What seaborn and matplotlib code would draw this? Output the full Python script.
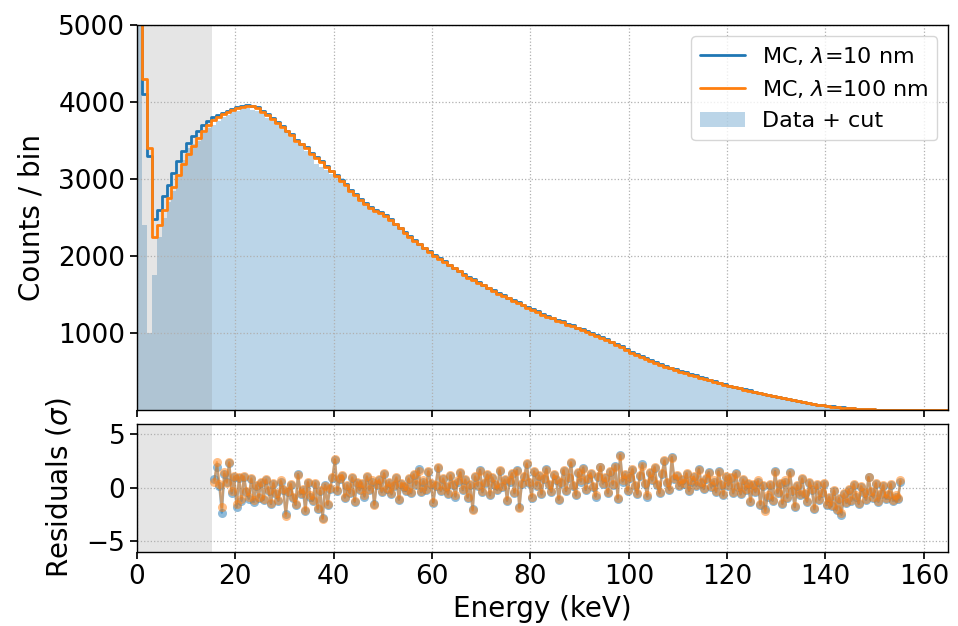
import numpy as np
import pandas as pd
import seaborn as sns
import matplotlib.pyplot as plt
from matplotlib.lines import Line2D
from matplotlib.patches import Patch

# spectrum, 1 keV bins from 0 to 165 keV
bin_edges = np.arange(0, 166, 1)

data_counts = [
    5600, 2400, 1000, 1750, 2250, 2500, 2700, 2850, 3050, 3250,
    3400, 3450, 3500, 3600, 3660, 3700, 3760, 3800, 3830, 3870,
    3880, 3910, 3920, 3900, 3880, 3850, 3790, 3760, 3700, 3650,
    3600, 3540, 3470, 3430, 3370, 3300, 3200, 3150, 3120, 3060,
    3020, 3010, 2900, 2830, 2770, 2710, 2660, 2620, 2570, 2540,
    2510, 2450, 2400, 2350, 2290, 2230, 2190, 2140, 2090, 2040,
    1990, 1950, 1910, 1870, 1830, 1790, 1750, 1710, 1680, 1640,
    1610, 1570, 1540, 1500, 1470, 1440, 1410, 1380, 1350, 1320,
    1290, 1260, 1230, 1200, 1180, 1150, 1130, 1100, 1080, 1050,
    1030, 1000, 980, 950, 930, 900, 870, 840, 810, 770,
    730, 710, 680, 650, 630, 600, 580, 550, 530, 510,
    490, 470, 450, 430, 410, 390, 375, 355, 335, 318,
    302, 288, 272, 258, 244, 229, 214, 200, 186, 174,
    161, 147, 135, 122, 110, 98, 88, 78, 68, 59,
    51, 44, 37, 31, 26, 21, 17, 13, 10, 7,
    5, 4, 3, 2, 2, 1, 1, 1, 1, 1,
    1, 1, 1, 1, 1,
]

mc_10nm = [
    7000, 4100, 3300, 2480, 2600, 2780, 2920, 3080, 3230, 3370,
    3470, 3560, 3630, 3700, 3760, 3800, 3830, 3860, 3890, 3910,
    3930, 3950, 3960, 3955, 3930, 3880, 3840, 3790, 3740, 3690,
    3630, 3580, 3510, 3460, 3410, 3340, 3280, 3230, 3170, 3110,
    3050, 2990, 2930, 2860, 2800, 2740, 2690, 2640, 2600, 2570,
    2530, 2480, 2420, 2370, 2310, 2260, 2210, 2160, 2110, 2060,
    2010, 1970, 1930, 1890, 1850, 1810, 1770, 1730, 1700, 1660,
    1630, 1590, 1560, 1520, 1490, 1460, 1430, 1400, 1370, 1340,
    1310, 1280, 1250, 1220, 1200, 1170, 1150, 1120, 1100, 1070,
    1050, 1020, 1000, 970, 950, 920, 890, 860, 830, 790,
    750, 730, 700, 670, 650, 620, 600, 570, 550, 530,
    510, 490, 470, 450, 430, 410, 395, 375, 355, 335,
    318, 302, 287, 271, 256, 240, 225, 210, 195, 182,
    168, 153, 140, 127, 114, 102, 91, 81, 71, 61,
    53, 46, 39, 33, 28, 23, 18, 14, 11, 8,
    6, 5, 4, 3, 2, 2, 1, 1, 1, 1,
    1, 1, 1, 1, 1,
]

mc_100nm = [
    7000, 4300, 3400, 2250, 2400, 2600, 2750, 2900, 3050, 3200,
    3330, 3430, 3530, 3620, 3700, 3770, 3800, 3840, 3870, 3900,
    3920, 3940, 3950, 3945, 3920, 3870, 3830, 3780, 3730, 3680,
    3620, 3570, 3500, 3450, 3400, 3330, 3270, 3220, 3160, 3100,
    3040, 2980, 2920, 2850, 2790, 2730, 2680, 2630, 2590, 2560,
    2520, 2470, 2410, 2360, 2300, 2250, 2200, 2150, 2100, 2050,
    2000, 1960, 1920, 1880, 1840, 1800, 1760, 1720, 1690, 1650,
    1620, 1580, 1550, 1510, 1480, 1450, 1420, 1390, 1360, 1330,
    1300, 1270, 1240, 1210, 1190, 1160, 1140, 1110, 1090, 1060,
    1040, 1010, 990, 960, 940, 910, 880, 850, 820, 780,
    740, 720, 690, 660, 640, 610, 590, 560, 540, 520,
    500, 480, 460, 440, 420, 400, 385, 365, 345, 325,
    310, 295, 280, 265, 250, 235, 220, 205, 190, 178,
    165, 150, 138, 125, 112, 100, 90, 80, 70, 60,
    52, 45, 38, 32, 27, 22, 18, 14, 11, 8,
    6, 5, 4, 3, 2, 2, 1, 1, 1, 1,
    1, 1, 1, 1, 1,
]

# residuals, 0.5 keV steps from 15.75 to 155.25 keV
res_energy = np.arange(15.75, 155.5, 0.5)

res_10nm = [
    0.8, 2.0, 0.2, -2.3, 1.3, 0.6, 2.3, -0.5, 1.0, -1.8, 0.9, -1.2, 1.0, -0.4, -1.0, 0.8, -1.3, 0.2, -0.9, 0.5,
    -1.1, 0.7, -0.3, -1.5, 0.4, -0.6, -1.2, 0.6, -0.2, -2.4, -0.4, 0.3, -0.9, -1.6, 1.3, -0.6, -0.2, -2.2, 0.5, -0.8,
    -1.2, 0.4, -2.0, -0.3, -2.8, 0.3, -1.6, -0.1, 0.9, 2.6, -0.3, 0.8, 1.1, -0.9, 0.2, -0.5, 0.9, -1.3, 0.5, -0.2,
    0.4, -0.8, 1.0, -0.2, 0.6, -1.5, 0.3, 0.7, -0.4, 1.3, -0.1, 0.5, -0.6, 0.2, 0.9, -1.1, 0.4, 0.1, -0.3, 0.8,
    -0.5, 1.2, 0.3, 1.8, -0.4, 0.6, -0.2, 1.5, 0.4, -1.4, 0.2, 1.9, -0.3, 0.8, 0.1, -0.6, 1.1, 0.3, -0.8, 0.6,
    1.4, -0.2, 0.7, -0.9, 0.3, -2.0, 1.0, 0.2, 1.7, -0.4, 0.5, 1.2, -0.7, 0.9, 0.3, -0.2, 1.6, 0.1, 0.7, -1.2,
    0.6, 1.3, -0.5, 1.7, -1.8, 0.4, 1.0, 2.2, 0.5, -0.9, 1.5, 0.2, 1.1, -0.6, 0.8, 1.8, 0.3, -0.4, 1.2, 0.7,
    -1.1, 0.5, 1.6, -0.3, 0.9, 2.3, 0.2, -0.7, 1.4, 0.6, 1.9, -0.2, 0.8, 1.3, 0.1, -0.8, 1.0, 2.0, 0.4, 0.9,
    -0.5, 1.5, 0.3, 2.1, -1.0, 3.1, 0.6, 1.2, -0.3, 0.9, 1.7, 0.2, -0.6, 1.1, 2.2, 0.4, -0.8, 1.4, 0.7, 1.9,
    0.3, -0.5, 1.3, 2.5, 0.5, -0.2, 2.9, 0.8, 1.1, 0.2, 0.7, 0.4, 1.3, -0.3, 0.6, 1.0, 0.2, 1.8, 0.5, -0.1,
    0.8, 1.5, 0.1, 0.6, -0.4, 1.6, 0.3, -0.7, 1.0, 0.2, 0.9, -0.5, 1.4, 0.1, -0.6, 0.7, -0.2, 0.4, -1.3, 0.3,
    -0.4, 0.6, -1.6, 0.2, -2.0, -0.8, 0.3, -1.2, 1.6, -0.5, 0.4, -1.5, 0.6, -0.9, 1.5, -0.3, -1.8, 0.2, -0.7, 0.8,
    -0.6, -1.3, 0.5, -0.2, -2.0, 0.3, -1.1, -0.5, 0.4, -1.6, -0.9, -1.7, -0.3, -2.1, -1.0, -2.5, -0.6, -1.4, -0.2, -1.2,
    0.3, -0.8, -1.5, 0.1, -0.5, -1.1, 1.0, -0.4, -0.9, 0.4, -1.3, -0.6, 0.2, -1.0, -0.7, 0.3, -1.2, -0.8, -1.0, 0.6,
]

res_100nm = [
    0.6, 2.4, 0.4, -1.8, 1.5, 0.5, 2.4, -0.3, 1.1, -1.5, 1.0, -1.0, 1.1, -0.3, -0.8, 0.9, -1.1, 0.3, -0.8, 0.6,
    -1.0, 0.8, -0.2, -1.4, 0.5, -0.5, -1.1, 0.7, -0.1, -2.6, -0.3, 0.4, -0.8, -1.5, 1.2, -0.5, -0.1, -2.1, 0.6, -0.7,
    -1.1, 0.5, -1.9, -0.2, -2.9, 0.2, -1.5, 0.0, 1.0, 2.7, -0.2, 0.9, 1.2, -0.8, 0.3, -0.4, 1.0, -1.2, 0.6, -0.1,
    0.5, -0.7, 1.1, -0.1, 0.7, -1.6, 0.4, 0.8, -0.3, 1.4, 0.0, 0.6, -0.5, 0.3, 1.0, -1.0, 0.5, 0.2, -0.2, 0.9,
    -0.4, 1.3, 0.4, 1.6, -0.3, 0.7, -0.1, 1.6, 0.5, -1.3, 0.3, 2.0, -0.2, 0.9, 0.2, -0.5, 1.2, 0.4, -0.7, 0.7,
    1.5, -0.1, 0.8, -0.8, 0.4, -2.1, 1.1, 0.3, 1.6, -0.3, 0.6, 1.3, -0.6, 1.0, 0.4, -0.1, 1.7, 0.2, 0.8, -1.1,
    0.7, 1.4, -0.4, 1.6, -1.9, 0.5, 1.1, 2.3, 0.6, -0.8, 1.6, 0.3, 1.2, -0.5, 0.9, 1.7, 0.4, -0.3, 1.3, 0.8,
    -1.0, 0.6, 1.7, -0.2, 1.0, 2.4, 0.3, -0.6, 1.5, 0.7, 1.8, -0.1, 0.9, 1.4, 0.2, -0.7, 1.1, 2.0, 0.5, 1.0,
    -0.4, 1.6, 0.4, 2.0, -0.9, 3.0, 0.7, 1.3, -0.2, 1.0, 1.8, 0.3, -0.5, 1.2, 2.1, 0.5, -0.7, 1.5, 0.8, 2.0,
    0.4, -0.4, 1.4, 2.6, 0.6, -0.1, 2.8, 0.9, 1.2, 0.3, 0.8, 0.5, 1.4, -0.2, 0.7, 1.1, 0.3, 1.7, 0.6, 0.0,
    0.9, 1.4, 0.2, 0.7, -0.3, 1.5, 0.4, -0.6, 1.1, 0.3, 1.0, -0.4, 1.3, 0.2, -0.5, 0.8, -0.1, 0.5, -1.2, 0.4,
    -0.3, 0.7, -1.5, 0.3, -2.2, -0.7, 0.4, -1.1, 1.5, -0.4, 0.5, -1.4, 0.7, -0.8, 1.4, -0.2, -1.7, 0.3, -0.6, 0.9,
    -0.5, -1.2, 0.6, -0.1, -1.9, 0.4, -1.0, -0.4, 0.5, -1.5, -0.8, -1.6, -0.2, -2.0, -0.9, -2.3, -0.5, -1.3, -0.1, -1.1,
    0.4, -0.7, -1.4, 0.2, -0.4, -1.0, 1.0, -0.3, -0.8, 0.5, -1.2, -0.5, 0.3, -0.9, -0.6, 0.4, -1.1, -0.7, -0.9, 0.7,
]

cut_energy = 15.3
blue = "#1f77b4"
orange = "#ff7f0e"

spec = pd.DataFrame({
    "energy": bin_edges[:-1] + 0.5,
    "data": data_counts,
    "mc10": mc_10nm,
    "mc100": mc_100nm,
})
res = pd.DataFrame({"energy": res_energy, "r10": res_10nm, "r100": res_100nm})

sns.set_theme(style="ticks")
plt.rcParams.update({
    "font.family": ["DejaVu Sans"],
    "text.color": "black",
    "axes.labelcolor": "black",
    "xtick.color": "black",
    "ytick.color": "black",
    "xtick.labelsize": 19,
    "ytick.labelsize": 19,
    "axes.labelsize": 20,
    "axes.labelpad": 9,
    "axes.edgecolor": "black",
    "axes.linewidth": 1.0,
    "xtick.major.size": 5,
    "ytick.major.size": 5,
    "grid.linestyle": ":",
    "grid.color": "#b0b0b0",
    "grid.linewidth": 0.9,
})

fig = plt.figure(figsize=(9.58, 6.26), dpi=100)
ax = fig.add_axes([0.143, 0.345, 0.847, 0.615])
axr = fig.add_axes([0.143, 0.118, 0.847, 0.205], sharex=ax)

edges = list(bin_edges)

# spectrum
sns.histplot(data=spec, x="energy", weights="data", bins=edges, element="step",
             fill=True, color=blue, alpha=0.3, linewidth=0, ax=ax, zorder=1)
ax.axvspan(0, cut_energy, color="gray", alpha=0.2, lw=0, zorder=2)
sns.histplot(data=spec, x="energy", weights="mc10", bins=edges, element="step",
             fill=False, color=blue, linewidth=2, ax=ax, zorder=3)
sns.histplot(data=spec, x="energy", weights="mc100", bins=edges, element="step",
             fill=False, color=orange, linewidth=2, ax=ax, zorder=4)

ax.set_xlim(0, 165)
ax.set_ylim(0, 5000)
ax.set_yticks([1000, 2000, 3000, 4000, 5000])
ax.set_ylabel("Counts / bin")
ax.set_xlabel("")
ax.tick_params(labelbottom=False)
ax.grid(True)
ax.set_axisbelow(False)

handles = [
    Line2D([], [], color=blue, lw=2),
    Line2D([], [], color=orange, lw=2),
    Patch(facecolor=blue, alpha=0.3, lw=0),
]
labels = [r"MC, $\lambda$=10 nm", r"MC, $\lambda$=100 nm", "Data + cut"]
ax.legend(handles, labels, loc="upper right", fontsize=16, framealpha=0.8)

# residuals
axr.axvspan(0, cut_energy, color="gray", alpha=0.2, lw=0, zorder=1)
sns.lineplot(data=res, x="energy", y="r10", color=blue, marker="o", markersize=6.5,
             markeredgewidth=0, alpha=0.5, linewidth=1.8, ax=axr, zorder=3)
sns.lineplot(data=res, x="energy", y="r100", color=orange, marker="o", markersize=6.5,
             markeredgewidth=0, alpha=0.5, linewidth=1.8, ax=axr, zorder=4)
axr.set_ylim(-6, 6)
axr.set_yticks([-5, 0, 5])
axr.set_xticks(np.arange(0, 161, 20))
axr.set_xlim(0, 165)
axr.set_ylabel(r"Residuals ($\sigma$)")
axr.set_xlabel("Energy (keV)", labelpad=4)
axr.grid(True)
axr.set_axisbelow(False)

# keep the frame solid above the dotted grid
for a in (ax, axr):
    for sp in a.spines.values():
        sp.set_zorder(6)

fig.align_ylabels([ax, axr])
fig.savefig("out.png", dpi=100)
